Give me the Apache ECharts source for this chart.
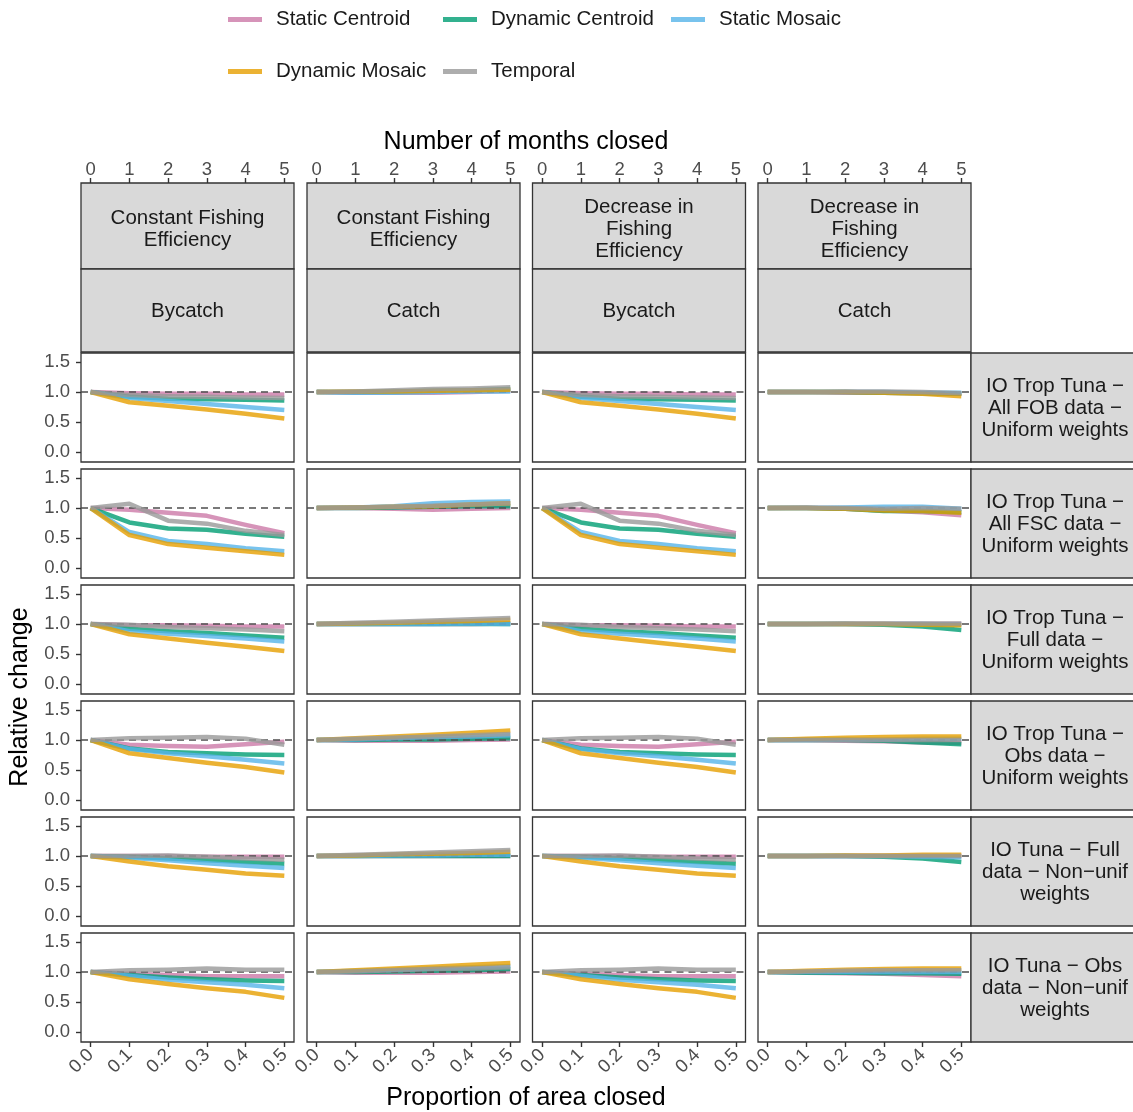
<!DOCTYPE html>
<html><head><meta charset="utf-8">
<script src="https://cdn.jsdelivr.net/npm/echarts@6/dist/echarts.min.js"></script>
<style>html,body{margin:0;padding:0;background:#fff}#c{width:1133px;height:1112px}</style>
</head><body><div id="c"></div>
<script>
// ---------- data ----------
const xProp = [0, 0.1, 0.2, 0.3, 0.4, 0.5];
const xTickLabels = ['0.0', '0.1', '0.2', '0.3', '0.4', '0.5'];
const monthTicks = [0, 1, 2, 3, 4, 5];
const yTicks = [0, 0.5, 1, 1.5];
const seriesNames = ['Static Centroid', 'Dynamic Centroid', 'Static Mosaic', 'Dynamic Mosaic', 'Temporal'];
const colTopLabels = ['Constant Fishing\nEfficiency', 'Constant Fishing\nEfficiency', 'Decrease in\nFishing\nEfficiency', 'Decrease in\nFishing\nEfficiency'];
const colSubLabels = ['Bycatch', 'Catch', 'Bycatch', 'Catch'];
const rowLabels = [
  'IO Trop Tuna \u2212\nAll FOB data \u2212\nUniform weights',
  'IO Trop Tuna \u2212\nAll FSC data \u2212\nUniform weights',
  'IO Trop Tuna \u2212\nFull data \u2212\nUniform weights',
  'IO Trop Tuna \u2212\nObs data \u2212\nUniform weights',
  'IO Tuna \u2212 Full\ndata \u2212 Non\u2212unif\nweights',
  'IO Tuna \u2212 Obs\ndata \u2212 Non\u2212unif\nweights'
];
// each panel: [Static Centroid, Dynamic Centroid, Static Mosaic, Dynamic Mosaic, Temporal]
const fobConstBycatch = [[1,0.98,0.97,0.97,0.96,0.96],[1,0.92,0.89,0.88,0.87,0.86],[1,0.9,0.85,0.8,0.75,0.7],[1,0.83,0.77,0.71,0.64,0.56],[1,0.95,0.93,0.92,0.91,0.9]];
const fobConstCatch   = [[1,0.99,0.99,0.99,1.0,1.02],[1,1.0,1.01,1.02,1.03,1.05],[1,0.99,0.99,1.0,1.01,1.01],[1,1.01,1.01,1.02,1.03,1.04],[1,1.01,1.03,1.05,1.06,1.08]];
const fobDecBycatch   = [[1,0.98,0.97,0.97,0.96,0.96],[1,0.92,0.89,0.88,0.87,0.86],[1,0.9,0.85,0.8,0.75,0.7],[1,0.83,0.77,0.71,0.64,0.56],[1,0.95,0.93,0.92,0.91,0.9]];
const fobDecCatch     = [[1,1.0,0.99,0.99,0.98,0.97],[1,1.0,1.0,0.99,0.98,0.97],[1,1.0,1.0,1.0,0.99,0.99],[1,1.0,1.0,0.99,0.97,0.93],[1,1.0,1.01,1.01,1.0,0.98]];

const fscConstBycatch = [[1,0.97,0.92,0.87,0.72,0.58],[1,0.76,0.66,0.64,0.57,0.52],[1,0.6,0.45,0.4,0.33,0.28],[1,0.55,0.4,0.34,0.28,0.22],[1,1.07,0.79,0.74,0.62,0.55]];
const fscConstCatch   = [[1,1.0,0.99,0.97,0.99,1.0],[1,1.0,1.01,1.02,1.03,1.03],[1,1.01,1.03,1.08,1.1,1.11],[1,1.01,1.02,1.03,1.06,1.08],[1,1.01,1.02,1.04,1.06,1.08]];
const fscDecBycatch   = [[1,0.97,0.92,0.87,0.72,0.58],[1,0.76,0.66,0.64,0.57,0.52],[1,0.6,0.45,0.4,0.33,0.28],[1,0.55,0.4,0.34,0.28,0.22],[1,1.07,0.79,0.74,0.62,0.55]];
const fscDecCatch     = [[1,1.0,0.99,0.96,0.93,0.88],[1,1.0,0.99,0.95,0.95,0.93],[1,1.0,1.01,1.02,1.02,0.99],[1,1.0,0.99,0.96,0.95,0.92],[1,1.01,1.0,0.99,1.0,0.99]];

const fullConstBycatch = [[1,0.98,0.98,0.97,0.96,0.96],[1,0.92,0.88,0.85,0.81,0.77],[1,0.88,0.84,0.8,0.76,0.71],[1,0.83,0.76,0.69,0.62,0.55],[1,0.99,0.95,0.93,0.91,0.88]];
const fullConstCatch   = [[1,1.0,1.0,1.0,1.0,1.01],[1,1.0,1.0,1.0,1.0,1.0],[1,1.0,1.0,1.0,1.01,1.0],[1,1.01,1.02,1.04,1.05,1.07],[1,1.02,1.04,1.06,1.08,1.1]];
const fullDecBycatch   = [[1,0.98,0.98,0.97,0.96,0.96],[1,0.92,0.88,0.85,0.81,0.77],[1,0.88,0.84,0.8,0.76,0.71],[1,0.83,0.76,0.69,0.62,0.55],[1,0.99,0.95,0.93,0.91,0.88]];
const fullDecCatch     = [[1,1.0,1.0,1.0,1.0,1.0],[1,1.0,1.0,0.99,0.96,0.9],[1,1.0,1.0,1.0,1.0,0.99],[1,1.0,1.0,1.0,0.99,0.98],[1,1.0,1.01,1.01,1.01,1.01]];

const obsConstBycatch = [[1,0.92,0.9,0.89,0.93,0.97],[1,0.86,0.8,0.78,0.76,0.75],[1,0.85,0.78,0.73,0.67,0.61],[1,0.78,0.7,0.62,0.55,0.46],[1,1.03,1.04,1.05,1.02,0.92]];
const obsConstCatch   = [[1,0.99,0.99,0.99,1.0,1.01],[1,1.0,1.01,1.01,1.02,1.03],[1,1.01,1.03,1.05,1.06,1.08],[1,1.03,1.06,1.09,1.12,1.16],[1,1.02,1.04,1.06,1.08,1.1]];
const obsDecBycatch   = [[1,0.92,0.9,0.89,0.93,0.97],[1,0.86,0.8,0.78,0.76,0.75],[1,0.85,0.78,0.73,0.67,0.61],[1,0.78,0.7,0.62,0.55,0.46],[1,1.03,1.04,1.05,1.02,0.92]];
const obsDecCatch     = [[1,1.0,0.99,0.98,0.96,0.95],[1,1.0,1.0,0.99,0.96,0.93],[1,1.0,1.01,1.01,1.02,1.02],[1,1.02,1.04,1.05,1.06,1.06],[1,1.0,1.0,1.0,1.0,1.0]];

const tunaFullConstBycatch = [[1,1.0,1.0,0.99,0.99,0.99],[1,0.99,0.96,0.93,0.9,0.87],[1,0.97,0.93,0.88,0.84,0.8],[1,0.91,0.83,0.77,0.71,0.67],[1,1.0,1.01,0.99,0.96,0.94]];
const tunaFullConstCatch   = [[1,1.0,1.0,1.0,1.0,1.0],[1,1.0,1.0,1.0,1.0,1.0],[1,1.0,1.01,1.01,1.02,1.02],[1,1.01,1.03,1.04,1.05,1.07],[1,1.02,1.04,1.06,1.08,1.1]];
const tunaFullDecBycatch   = [[1,1.0,1.0,0.99,0.99,0.99],[1,0.99,0.96,0.93,0.9,0.87],[1,0.97,0.93,0.88,0.84,0.8],[1,0.91,0.83,0.77,0.71,0.67],[1,1.0,1.01,0.99,0.96,0.94]];
const tunaFullDecCatch     = [[1,1.0,1.0,1.0,1.0,1.0],[1,1.0,1.0,0.99,0.96,0.9],[1,1.0,1.0,1.0,0.99,0.98],[1,1.0,1.01,1.01,1.02,1.02],[1,1.0,1.0,1.0,1.0,1.0]];

const tunaObsConstBycatch = [[1,0.97,0.95,0.93,0.93,0.93],[1,0.95,0.91,0.88,0.86,0.85],[1,0.94,0.87,0.83,0.79,0.73],[1,0.88,0.8,0.73,0.67,0.57],[1,1.03,1.04,1.06,1.04,1.04]];
const tunaObsConstCatch   = [[1,0.99,0.99,0.99,1.0,1.01],[1,1.0,1.01,1.02,1.03,1.05],[1,1.02,1.04,1.06,1.08,1.1],[1,1.03,1.06,1.09,1.12,1.15],[1,1.01,1.03,1.05,1.06,1.08]];
const tunaObsDecBycatch   = [[1,0.97,0.95,0.93,0.93,0.93],[1,0.95,0.91,0.88,0.86,0.85],[1,0.94,0.87,0.83,0.79,0.73],[1,0.88,0.8,0.73,0.67,0.57],[1,1.03,1.04,1.06,1.04,1.04]];
const tunaObsDecCatch     = [[1,0.99,0.98,0.97,0.95,0.93],[1,0.99,0.99,0.98,0.98,0.97],[1,1.0,1.0,1.0,1.0,1.0],[1,1.02,1.04,1.05,1.06,1.06],[1,1.01,1.02,1.03,1.03,1.03]];

const panels = [
  [fobConstBycatch, fobConstCatch, fobDecBycatch, fobDecCatch],
  [fscConstBycatch, fscConstCatch, fscDecBycatch, fscDecCatch],
  [fullConstBycatch, fullConstCatch, fullDecBycatch, fullDecCatch],
  [obsConstBycatch, obsConstCatch, obsDecBycatch, obsDecCatch],
  [tunaFullConstBycatch, tunaFullConstCatch, tunaFullDecBycatch, tunaFullDecCatch],
  [tunaObsConstBycatch, tunaObsConstCatch, tunaObsDecBycatch, tunaObsDecCatch]
];

// ---------- styling / layout ----------
const colors = ['rgba(204,121,167,0.8)', 'rgba(0,158,115,0.8)', 'rgba(86,180,233,0.8)', 'rgba(230,159,0,0.8)', 'rgba(153,153,153,0.8)'];
const FONT = '"Liberation Sans", Arial, sans-serif';
const TICK_FS = 18.5;
const colLeft = [81, 307, 532.5, 758];
const panelW = 213;
const rowTop = [353, 469, 585, 701, 817, 933];
const panelH = 109;
const stripTopY = 183, stripMidY = 269, stripBotY = 352;
const rightStripX = 971;
const tickStyle = {color: '#333', width: 1.4};

const grids = [], xAxes = [], yAxes = [], series = [], graphics = [];
let gi = 0;
for (let r = 0; r < 6; r++) {
  for (let c = 0; c < 4; c++) {
    grids.push({left: colLeft[c], top: rowTop[r], width: panelW, height: panelH,
      show: true, borderColor: '#333', borderWidth: 1.3, backgroundColor: '#fff', containLabel: false});
    const bottomShow = r === 5;
    xAxes.push({type: 'value', gridIndex: gi, position: 'bottom', min: -0.025, max: 0.525,
      axisLine: {show: false, onZero: false}, splitLine: {show: false},
      axisTick: {show: bottomShow, customValues: xProp, length: 5, lineStyle: tickStyle},
      axisLabel: {show: bottomShow, customValues: xProp, rotate: 45, margin: 10, fontSize: TICK_FS, color: '#4d4d4d', fontFamily: FONT,
        formatter: v => xTickLabels[xProp.indexOf(Math.round(v * 10) / 10)] || ''}});
    const firstX = xAxes.length - 1;
    if (r === 0) {
      xAxes.push({type: 'value', gridIndex: gi, position: 'top', offset: rowTop[0] - stripTopY,
        min: -0.25, max: 5.25,
        axisLine: {show: false, onZero: false}, splitLine: {show: false},
        axisTick: {show: true, customValues: monthTicks, length: 5, lineStyle: tickStyle},
        axisLabel: {show: true, customValues: monthTicks, margin: 4, fontSize: TICK_FS, color: '#4d4d4d', fontFamily: FONT}});
    }
    yAxes.push({type: 'value', gridIndex: gi, min: -0.165, max: 1.65,
      axisLine: {show: false, onZero: false}, splitLine: {show: false},
      axisTick: {show: c === 0, customValues: yTicks, length: 5, lineStyle: tickStyle},
      axisLabel: {show: c === 0, customValues: yTicks, margin: 11, fontSize: TICK_FS, color: '#4d4d4d', fontFamily: FONT,
        formatter: v => v.toFixed(1)}});
    // reference dashed line at 1
    series.push({type: 'line', name: '_ref', xAxisIndex: firstX, yAxisIndex: gi, data: [], z: 1, silent: true,
      markLine: {silent: true, symbol: 'none', label: {show: false}, animation: false,
        lineStyle: {type: [7, 5], color: '#4d4d4d', width: 1.5}, data: [{yAxis: 1}]}});
    const panel = panels[r][c];
    for (let s = 0; s < 5; s++) {
      series.push({type: 'line', name: seriesNames[s], xAxisIndex: firstX, yAxisIndex: gi, z: 3 + s,
        showSymbol: false, symbol: 'none', smooth: false,
        lineStyle: {color: colors[s], width: 4.5, cap: 'butt', join: 'round'},
        itemStyle: {color: colors[s]},
        data: xProp.map((x, i) => [x, panel[s][i]])});
    }
    gi++;
  }
}

// strips
const STRIP_FONT = '20.5px ' + FONT;
for (let c = 0; c < 4; c++) {
  graphics.push({type: 'rect', shape: {x: colLeft[c], y: stripTopY, width: panelW, height: stripMidY - stripTopY},
    style: {fill: '#d9d9d9', stroke: '#333', lineWidth: 1.3}, z: 10});
  graphics.push({type: 'rect', shape: {x: colLeft[c], y: stripMidY, width: panelW, height: stripBotY - stripMidY},
    style: {fill: '#d9d9d9', stroke: '#333', lineWidth: 1.3}, z: 10});
  graphics.push({type: 'text', x: colLeft[c] + panelW / 2, y: (stripTopY + stripMidY) / 2 + 3, z: 11,
    style: {text: colTopLabels[c], fill: '#1a1a1a', font: STRIP_FONT, align: 'center', verticalAlign: 'middle', lineHeight: 22}});
  graphics.push({type: 'text', x: colLeft[c] + panelW / 2, y: (stripMidY + stripBotY) / 2 + 1, z: 11,
    style: {text: colSubLabels[c], fill: '#1a1a1a', font: STRIP_FONT, align: 'center', verticalAlign: 'middle'}});
}
for (let r = 0; r < 6; r++) {
  graphics.push({type: 'rect', shape: {x: rightStripX, y: rowTop[r], width: 166, height: panelH},
    style: {fill: '#d9d9d9', stroke: '#333', lineWidth: 1.3}, z: 10});
  graphics.push({type: 'text', x: rightStripX + 84, y: rowTop[r] + panelH / 2 + 1, z: 11,
    style: {text: rowLabels[r], fill: '#1a1a1a', font: STRIP_FONT, align: 'center', verticalAlign: 'middle', lineHeight: 22}});
}
// axis titles
const TITLE_FONT = '25px ' + FONT;
graphics.push({type: 'text', x: 526, y: 142, z: 11,
  style: {text: 'Number of months closed', fill: '#000', font: TITLE_FONT, align: 'center', verticalAlign: 'middle'}});
graphics.push({type: 'text', x: 526, y: 1098, z: 11,
  style: {text: 'Proportion of area closed', fill: '#000', font: TITLE_FONT, align: 'center', verticalAlign: 'middle'}});
graphics.push({type: 'text', x: 20, y: 697, rotation: Math.PI / 2, z: 11,
  style: {text: 'Relative change', fill: '#000', font: TITLE_FONT, align: 'center', verticalAlign: 'middle'}});

// legends (one per item, positioned in a 3 + 2 grid)
const legendPos = [[228, 9], [443, 9], [671, 9], [228, 61], [443, 61]];
const legends = seriesNames.map((n, i) => ({
  data: [n], left: legendPos[i][0], top: legendPos[i][1], padding: 0, icon: 'rect', itemWidth: 34, itemHeight: 5,
  textStyle: {fontSize: 20.5, color: '#1a1a1a', fontFamily: FONT, padding: [0, 0, 0, 9]},
  selectedMode: false
}));

const chart = echarts.init(document.getElementById('c'), null, {renderer: 'canvas'});
chart.setOption({
  animation: false,
  backgroundColor: '#fff',
  legend: legends,
  grid: grids,
  xAxis: xAxes,
  yAxis: yAxes,
  series: series,
  graphic: graphics
});
</script></body></html>
